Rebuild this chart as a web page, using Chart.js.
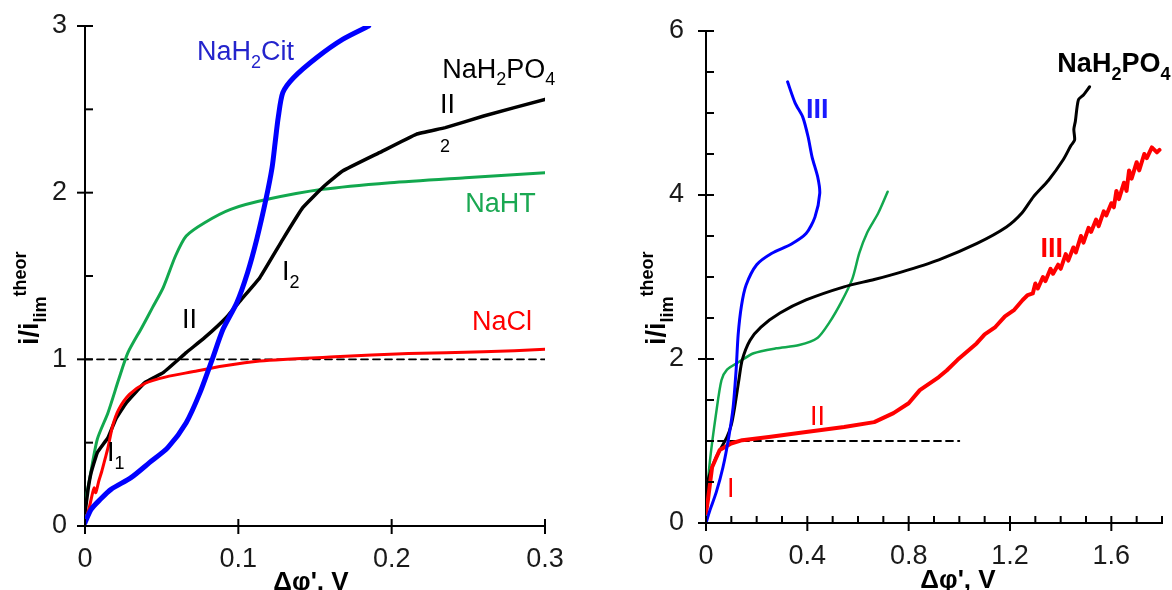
<!DOCTYPE html>
<html><head><meta charset="utf-8">
<script src="https://cdn.jsdelivr.net/npm/chart.js@4/dist/chart.umd.min.js"></script>
<style>
html,body{margin:0;padding:0;background:#fff;}
#wrap{position:relative;width:1172px;height:590px;overflow:hidden;background:#fff;}
canvas{position:absolute;top:0;}
#c1{left:0;}
#c2{left:580px;}
</style></head><body>
<div id="wrap">
<canvas id="c1" width="580" height="590"></canvas>
<canvas id="c2" width="592" height="590"></canvas>
</div>
<script>
// ---------------- DATA (left panel) ----------------
const leftXTicks = [0, 0.1, 0.2, 0.3];
const leftYTicks = [0, 1, 2, 3];
const leftYMinor = [0.5, 1.5, 2.5];

const naclL_x = [0,0.003,0.005,0.006,0.007,0.009,0.011,0.013,0.015,0.018,0.022,0.029,0.039,0.053,0.07,0.09,0.114,0.163,0.211,0.26,0.30];
const naclL_y = [0.02,0.12,0.2,0.23,0.2,0.27,0.33,0.4,0.47,0.6,0.7,0.79,0.855,0.895,0.925,0.96,0.99,1.015,1.035,1.045,1.06];

const phosL_x = [0,0.002,0.004,0.008,0.015,0.02,0.027,0.039,0.051,0.066,0.078,0.092,0.102,0.114,0.129,0.142,0.156,0.168,0.192,0.216,0.235,0.26,0.30];
const phosL_y = [0.08,0.22,0.32,0.44,0.53,0.64,0.74,0.86,0.92,1.04,1.13,1.25,1.36,1.49,1.72,1.91,2.04,2.13,2.24,2.35,2.39,2.46,2.56];

const nahtL_x = [0,0.001,0.003,0.008,0.015,0.022,0.028,0.037,0.044,0.051,0.059,0.066,0.078,0.095,0.119,0.155,0.199,0.248,0.30];
const nahtL_y = [0.06,0.18,0.28,0.52,0.68,0.88,1.04,1.19,1.31,1.43,1.62,1.74,1.82,1.9,1.96,2.02,2.06,2.09,2.12];

const citL_x = [0,0.004,0.01,0.017,0.03,0.042,0.054,0.066,0.075,0.083,0.09,0.099,0.106,0.112,0.118,0.122,0.124,0.126,0.129,0.136,0.151,0.168,0.185];
const citL_y = [0.02,0.1,0.16,0.22,0.29,0.38,0.47,0.62,0.8,1.0,1.18,1.34,1.52,1.72,1.96,2.15,2.3,2.45,2.6,2.69,2.81,2.92,3.0];

const limL_x = [0, 0.3];
const limL_y = [1, 1];

// ---------------- DATA (right panel) ----------------
const rightXTicks = [0, 0.4, 0.8, 1.2, 1.6];
const rightXMinor = [0.1,0.2,0.3,0.5,0.6,0.7,0.9,1.0,1.1,1.3,1.4,1.5,1.7,1.8];
const rightYTicks = [0, 2, 4, 6];
const rightYMinor = [0.5,1,1.5,2.5,3,3.5,4.5,5,5.5];

const citR_x = [0,0.016,0.04,0.067,0.09,0.107,0.119,0.127,0.14,0.158,0.2,0.26,0.336,0.395,0.43,0.449,0.441,0.419,0.403,0.382,0.352,0.322];
const citR_y = [0,0.16,0.37,0.68,1.05,1.41,1.87,2.3,2.65,2.9,3.15,3.29,3.4,3.53,3.73,4.02,4.22,4.46,4.71,4.95,5.12,5.38];

const nahtR_x = [0,0.002,0.016,0.04,0.061,0.083,0.128,0.188,0.277,0.368,0.441,0.486,0.535,0.578,0.605,0.636,0.68,0.717];
const nahtR_y = [0.09,0.28,0.77,1.34,1.74,1.87,1.96,2.07,2.13,2.17,2.26,2.44,2.7,2.98,3.29,3.54,3.78,4.04];

const phosR_x = [0,0.008,0.04,0.083,0.1,0.113,0.13,0.143,0.174,0.217,0.292,0.395,0.545,0.664,0.77,0.919,1.07,1.186,1.247,1.293,1.352,1.41,1.44,1.455,1.452,1.458,1.47,1.49,1.514];
const phosR_y = [0.3,0.52,0.8,1.05,1.2,1.41,1.75,1.99,2.23,2.39,2.56,2.72,2.88,2.97,3.06,3.21,3.41,3.61,3.78,3.98,4.18,4.43,4.6,4.67,4.8,4.9,5.16,5.22,5.32];

const naclR_x = [0,0.008,0.024,0.054,0.099,0.143,0.248,0.395,0.545,0.664,0.74,0.8,0.844,0.919,0.95,0.993,1.068,1.1,1.142,1.18,1.217,1.25,1.27,1.29,1.30,1.31,1.33,1.34,1.36,1.37,1.39,1.40,1.42,1.43,1.45,1.46,1.48,1.49,1.51,1.52,1.54,1.55,1.57,1.58,1.60,1.61,1.62,1.63,1.65,1.66,1.67,1.68,1.70,1.71,1.73,1.74,1.76,1.78,1.79];
const naclR_y = [0.12,0.29,0.68,0.89,0.97,1.01,1.05,1.11,1.17,1.23,1.34,1.46,1.62,1.78,1.86,1.99,2.19,2.3,2.39,2.52,2.6,2.72,2.78,2.8,2.92,2.86,3.0,2.95,3.1,3.04,3.15,3.1,3.28,3.2,3.36,3.3,3.5,3.42,3.6,3.55,3.7,3.62,3.8,3.75,3.9,3.85,4.05,3.95,4.15,4.05,4.3,4.2,4.4,4.3,4.5,4.45,4.58,4.52,4.55];

const limR_x = [0, 1.0];
const limR_y = [1, 1];

// ---------------- helpers ----------------
const FAM = '"Liberation Sans", Arial, Helvetica, sans-serif';
Chart.defaults.font.family = FAM;
const pts = (xs, ys) => xs.map((x, i) => ({x, y: ys[i]}));

function drawRich(ctx, x, y, parts, size, bold, color, align) {
  const w8 = bold ? 'bold ' : '';
  const segs = parts.map(p => {
    const mode = p[1] || '';
    const s = mode ? Math.round(size * 0.68) : size;
    ctx.font = w8 + s + 'px ' + FAM;
    return {t: p[0], s, w: ctx.measureText(p[0]).width,
            dy: mode === 'sub' ? size * 0.28 : mode === 'sup' ? -size * 0.45 : 0};
  });
  let cx = x;
  if (align === 'center') cx -= segs.reduce((a, s) => a + s.w, 0) / 2;
  ctx.fillStyle = color; ctx.textBaseline = 'alphabetic'; ctx.textAlign = 'left';
  segs.forEach(s => { ctx.font = w8 + s.s + 'px ' + FAM; ctx.fillText(s.t, cx, y + s.dy); cx += s.w; });
}

function line(ctx, x1, y1, x2, y2) { ctx.beginPath(); ctx.moveTo(x1, y1); ctx.lineTo(x2, y2); ctx.stroke(); }

function makeDecor(cfg) {
  return {
    id: 'decor',
    afterDraw(chart) {
      const ctx = chart.ctx, xs = chart.scales.x, ys = chart.scales.y, a = chart.chartArea;
      ctx.save();
      ctx.strokeStyle = '#000'; ctx.lineWidth = 2;
      cfg.xMajor.forEach(v => { const p = xs.getPixelForValue(v); line(ctx, p, a.bottom - 7, p, a.bottom + 8); });
      (cfg.xMinor || []).forEach(v => { const p = xs.getPixelForValue(v); line(ctx, p, a.bottom - 7, p, a.bottom); });
      cfg.yMajor.forEach(v => { const p = ys.getPixelForValue(v); line(ctx, a.left - 8, p, a.left + 8, p); });
      (cfg.yMinor || []).forEach(v => { const p = ys.getPixelForValue(v); line(ctx, a.left, p, a.left + 8, p); });
      // annotations
      cfg.notes.forEach(n => {
        drawRich(ctx, xs.getPixelForValue(n.x), ys.getPixelForValue(n.y), n.parts, n.size || 27, !!n.bold, n.color, 'left');
      });
      // x title
      drawRich(ctx, cfg.xTitle.cx, cfg.xTitle.by, [["Δφ', V"]], 26, true, '#000', 'center');
      // y title (rotated)
      ctx.translate(cfg.yTitle.bx, cfg.yTitle.sy);
      ctx.rotate(-Math.PI / 2);
      drawRich(ctx, 0, 0, [['i/i'], ['lim', 'sub'], ['theor', 'sup']], 27, true, '#000', 'left');
      ctx.restore();
    }
  };
}

function makeChart(id, o) {
  const tickFont = {size: 27, family: FAM};
  return new Chart(document.getElementById(id), {
    type: 'line',
    data: {datasets: o.datasets.map(d => Object.assign({
      pointRadius: 0, fill: false, tension: 0.25, borderJoinStyle: 'round', borderCapStyle: 'round'
    }, d))},
    options: {
      responsive: false, animation: false, devicePixelRatio: 1,
      layout: {padding: o.padding, autoPadding: false},
      plugins: {legend: {display: false}, tooltip: {enabled: false}},
      scales: {
        x: {
          type: 'linear', min: o.xMin, max: o.xMax,
          afterBuildTicks: s => { s.ticks = o.xTicks.map(v => ({value: v})); },
          afterFit: s => { s.height = o.xHeight; s.paddingLeft = 0; s.paddingRight = 0; },
          ticks: {font: tickFont, color: '#1a1a1a', padding: o.xPad, autoSkip: false, maxRotation: 0,
                  callback: v => String(v)},
          grid: {display: true, drawOnChartArea: false, drawTicks: false},
          border: {display: true, color: '#000', width: 2}
        },
        y: {
          type: 'linear', min: o.yMin, max: o.yMax,
          afterBuildTicks: s => { s.ticks = o.yTicks.map(v => ({value: v})); },
          afterFit: s => { s.width = o.yWidth; s.paddingTop = 0; s.paddingBottom = 0; },
          ticks: {font: tickFont, color: '#1a1a1a', padding: o.yPad, autoSkip: false, callback: v => String(v)},
          grid: {display: true, drawOnChartArea: false, drawTicks: false},
          border: {display: true, color: '#000', width: 2}
        }
      }
    },
    plugins: [makeDecor(o.decor)]
  });
}

// ---------------- left chart ----------------
makeChart('c1', {
  padding: {top: 26, right: 35, left: 0, bottom: 0},
  xMin: 0, xMax: 0.3, yMin: 0, yMax: 3,
  xTicks: leftXTicks, yTicks: leftYTicks,
  xHeight: 64, yWidth: 85, xPad: 17, yPad: 18,
  datasets: [
    {data: pts(citL_x, citL_y), borderColor: '#0000ff', borderWidth: 5},
    {data: pts(naclL_x, naclL_y), borderColor: '#ff0000', borderWidth: 3},
    {data: pts(phosL_x, phosL_y), borderColor: '#000000', borderWidth: 3.5, tension: 0.1},
    {data: pts(nahtL_x, nahtL_y), borderColor: '#12a84e', borderWidth: 3},
    {data: pts(limL_x, limL_y), borderColor: '#000000', borderWidth: 1.8, borderDash: [7, 5], tension: 0}
  ],
  decor: {
    xMajor: leftXTicks, yMajor: leftYTicks, yMinor: leftYMinor,
    xTitle: {cx: 311, by: 590}, yTitle: {bx: 38, sy: 345},
    notes: [
      {x: 0.073, y: 2.795, parts: [['NaH'], ['2', 'sub'], ['Cit']], color: '#2424cc'},
      {x: 0.233, y: 2.69, parts: [['NaH'], ['2', 'sub'], ['PO'], ['4', 'sub']], color: '#000'},
      {x: 0.2316, y: 2.478, parts: [['II']], color: '#000'},
      {x: 0.2316, y: 2.244, parts: [['2']], color: '#000', size: 18},
      {x: 0.1285, y: 1.476, parts: [['I'], ['2', 'sub']], color: '#000'},
      {x: 0.248, y: 1.884, parts: [['NaHT']], color: '#1aa852'},
      {x: 0.0633, y: 1.188, parts: [['II']], color: '#000'},
      {x: 0.2524, y: 1.176, parts: [['NaCl']], color: '#ff0000'},
      {x: 0.0144, y: 0.39, parts: [['I'], ['1', 'sub']], color: '#000'}
    ]
  }
});

// ---------------- right chart ----------------
makeChart('c2', {
  padding: {top: 31, right: 10, left: 0, bottom: 0},
  xMin: 0, xMax: 1.8, yMin: 0, yMax: 6,
  xTicks: rightXTicks, yTicks: rightYTicks,
  xHeight: 67, yWidth: 126, xPad: 17, yPad: 22,
  datasets: [
    {data: pts(citR_x, citR_y), borderColor: '#0000ff', borderWidth: 3},
    {data: pts(naclR_x, naclR_y), borderColor: '#ff0000', borderWidth: 4, tension: 0},
    {data: pts(phosR_x, phosR_y), borderColor: '#000000', borderWidth: 3},
    {data: pts(nahtR_x, nahtR_y), borderColor: '#12a84e', borderWidth: 2.5},
    {data: pts(limR_x, limR_y), borderColor: '#000000', borderWidth: 1.8, borderDash: [7, 5], tension: 0}
  ],
  decor: {
    xMajor: rightXTicks, xMinor: rightXMinor, yMajor: rightYTicks, yMinor: rightYMinor,
    xTitle: {cx: 378, by: 588}, yTitle: {bx: 85, sy: 345},
    notes: [
      {x: 1.387, y: 5.5, parts: [['NaH'], ['2', 'sub'], ['PO'], ['4', 'sub']], color: '#000', bold: true},
      {x: 0.395, y: 4.94, parts: [['III']], color: '#1a1aff', bold: true},
      {x: 1.32, y: 3.24, parts: [['III']], color: '#ff0000', bold: true},
      {x: 0.411, y: 1.195, parts: [['II']], color: '#ff0000'},
      {x: 0.083, y: 0.317, parts: [['I']], color: '#ff0000'}
    ]
  }
});
</script>
</body></html>
